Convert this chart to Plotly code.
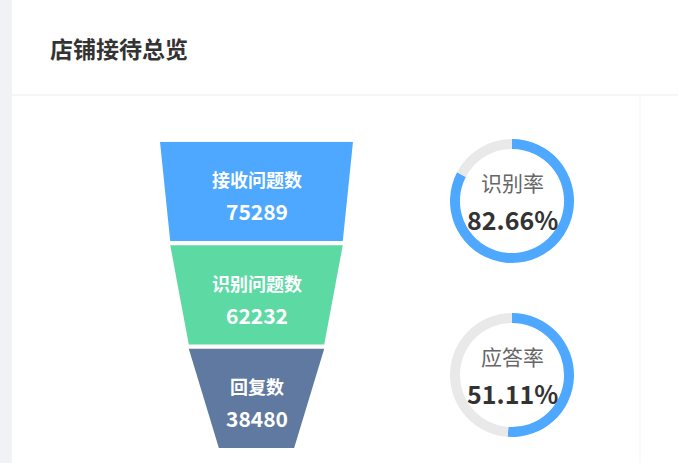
import plotly.graph_objects as go

# funnel data
stages = ["接收问题数", "识别问题数", "回复数"]
counts = [75289, 62232, 38480]
stage_colors = ["#4EA8FF", "#5DD9A4", "#6079A0"]

# gauges
rate_names = ["识别率", "应答率"]
rates = [82.66, 51.11]

W, H = 678, 463
FONT = "Noto Sans CJK SC"
min_size = 0.39   # width of the funnel tip relative to the top
gap = 0.04        # space between stages (in stage units)

vmax = max(counts)


def half_width(v):
    return (vmax * min_size + v * (1 - min_size)) / 2


fig = go.Figure()

# funnel pieces : top = own value, bottom = next value (or min size)
for i, (name, v) in enumerate(zip(stages, counts)):
    nxt = counts[i + 1] if i + 1 < len(counts) else 0
    top, bot = half_width(v), half_width(nxt)
    y0, y1 = i, i + 1 - gap
    fig.add_trace(go.Scatter(
        x=[-top, top, bot, -bot, -top], y=[y0, y0, y1, y1, y0],
        mode="lines", fill="toself", fillcolor=stage_colors[i],
        line=dict(width=0), hoverinfo="skip", showlegend=False))
    ymid = (y0 + y1) / 2
    fig.add_annotation(x=0, y=ymid, xref="x", yref="y", text="<b>%s</b>" % name,
                       showarrow=False, yshift=12,
                       font=dict(family=FONT, size=18, color="white"))
    fig.add_annotation(x=0, y=ymid, xref="x", yref="y", text="<b>%d</b>" % v,
                       showarrow=False, yshift=-20,
                       font=dict(family=FONT, size=21, color="white"))

# donuts
centers = [201, 375]
R = 62
for name, r, cy in zip(rate_names, rates, centers):
    cx = 512
    dom_x = [(cx - R) / W, (cx + R) / W]
    dom_y = [(H - cy - R) / H, (H - cy + R) / H]
    fig.add_trace(go.Pie(
        values=[r, 100 - r], sort=False, direction="clockwise", rotation=0,
        hole=0.84, marker=dict(colors=["#4EA8FF", "#E9E9E9"], line=dict(width=0)),
        textinfo="none", hoverinfo="skip", showlegend=False,
        domain=dict(x=dom_x, y=dom_y)))
    fig.add_annotation(x=cx / W, y=(H - cy + 19) / H, xref="paper", yref="paper",
                       xanchor="center", yanchor="middle",
                       text=name, showarrow=False,
                       font=dict(family=FONT, size=21, color="#666666"))
    fig.add_annotation(x=cx / W, y=(H - cy - 18) / H, xref="paper", yref="paper",
                       xanchor="center", yanchor="middle",
                       text="<b>%.2f%%</b>" % r, showarrow=False,
                       font=dict(family=FONT, size=25, color="#333333"))

# title
fig.add_annotation(x=48 / W, y=(H - 48) / H, xref="paper", yref="paper",
                   xanchor="left", yanchor="middle",
                   text="<b>店铺接待总览</b>", showarrow=False,
                   font=dict(family=FONT, size=23, color="#333333"))

# card decoration
fig.add_shape(type="rect", xref="paper", yref="paper", x0=0, x1=12 / W, y0=0, y1=1,
              fillcolor="#F0F2F5", line=dict(width=0), layer="below")
fig.add_shape(type="line", xref="paper", yref="paper", x0=12 / W, x1=1,
              y0=(H - 95) / H, y1=(H - 95) / H, line=dict(color="#EBEBEB", width=1))
fig.add_shape(type="line", xref="paper", yref="paper", x0=640 / W, x1=640 / W,
              y0=0, y1=(H - 95) / H, line=dict(color="#F5F5F5", width=1))

fig.update_layout(
    width=W, height=H, margin=dict(l=0, r=0, t=0, b=0),
    paper_bgcolor="white", plot_bgcolor="rgba(0,0,0,0)",
    xaxis=dict(domain=[160 / W, 353 / W], range=[-vmax / 2, vmax / 2],
               visible=False, fixedrange=True),
    yaxis=dict(domain=[1 - 448 / H, 1 - 141.7 / H], range=[3 - gap, 0],
               visible=False, fixedrange=True),
)

fig.write_html("out.html", config={"displayModeBar": False},
               post_script="document.body.style.margin='0px';")
